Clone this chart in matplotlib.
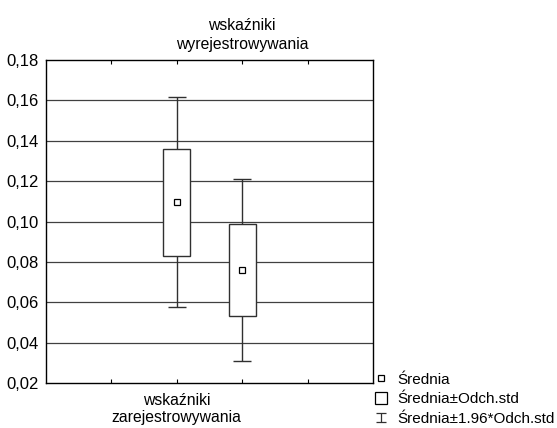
import numpy as np
import matplotlib
matplotlib.use('Agg')
import matplotlib.pyplot as plt
from matplotlib.lines import Line2D
from matplotlib.patches import Rectangle
from matplotlib.transforms import blended_transform_factory
from matplotlib.legend_handler import HandlerErrorbar

plt.rcParams['font.family'] = ['Liberation Sans', 'DejaVu Sans']

# dane
positions = [2, 3]
means = [0.1096, 0.0760]
sds = [0.0265, 0.0230]
names = ['wskaźniki\nzarejestrowywania', 'wskaźniki\nwyrejestrowywania']
yticks = [0.02, 0.04, 0.06, 0.08, 0.10, 0.12, 0.14, 0.16, 0.18]
legend_labels = ['Średnia', 'Średnia±Odch.std', 'Średnia±1.96*Odch.std']

means = np.array(means)
sds = np.array(sds)
fs = 11.3

fig = plt.figure(figsize=(5.57, 4.28), dpi=100)
ax = fig.add_axes([0.0826, 0.1051, 0.587, 0.7547])

for y in yticks[1:-1]:
    ax.axhline(y, color='#404040', lw=0.9, zorder=1)

ax.errorbar(positions, means, yerr=1.96 * sds, fmt='none', ecolor='#303030',
            elinewidth=1.0, capsize=6.5, capthick=1.0, zorder=2)
# tylko do legendy (poza osiami)
eb = ax.errorbar([-10], [0.1], yerr=[0.01], fmt='none', ecolor='#303030',
                 elinewidth=0.9, capsize=3.5, capthick=0.9)

bw = 0.41
for p, m, s in zip(positions, means, sds):
    ax.add_patch(Rectangle((p - bw / 2, m - s), bw, 2 * s, facecolor='white',
                           edgecolor='#303030', lw=1.0, zorder=3))

ax.plot(positions, means, 's', ms=4.5, mfc='white', mec='black', mew=0.9, zorder=4)

ax.set_xlim(0, 5)
ax.set_ylim(0.02, 0.18)
ax.set_yticks(yticks)
ax.set_yticklabels([('%.2f' % v).replace('.', ',') for v in yticks], fontsize=12)
ax.set_xticks([1, 2, 3, 4])
ax.set_xticklabels(['', names[0], '', ''], fontsize=fs, linespacing=1.2)
ax.tick_params(axis='x', direction='in', length=3, top=True, pad=7)
ax.tick_params(axis='y', length=0, pad=5)
for sp in ax.spines.values():
    sp.set_linewidth(1.0)
    sp.set_color('black')

trans = blended_transform_factory(ax.transData, ax.transAxes)
ax.text(positions[1], 1.025, names[1], transform=trans, ha='center', va='bottom',
        fontsize=fs, linespacing=1.35)

h_mean = Line2D([], [], ls='none', marker='s', ms=4.5, mfc='white', mec='black', mew=0.9)
h_box = Line2D([], [], ls='none', marker='s', ms=8.5, mfc='white', mec='black', mew=0.9)
fig.legend([h_mean, h_box, eb], legend_labels, loc='lower left',
           bbox_to_anchor=(0.666, -0.002), borderaxespad=0, frameon=False,
           fontsize=11, handlelength=0.9, handletextpad=0.6, labelspacing=0.36,
           borderpad=0.2,
           handler_map={eb: HandlerErrorbar(xerr_size=0.3, yerr_size=0.28)})

fig.savefig('out.png', dpi=100)
